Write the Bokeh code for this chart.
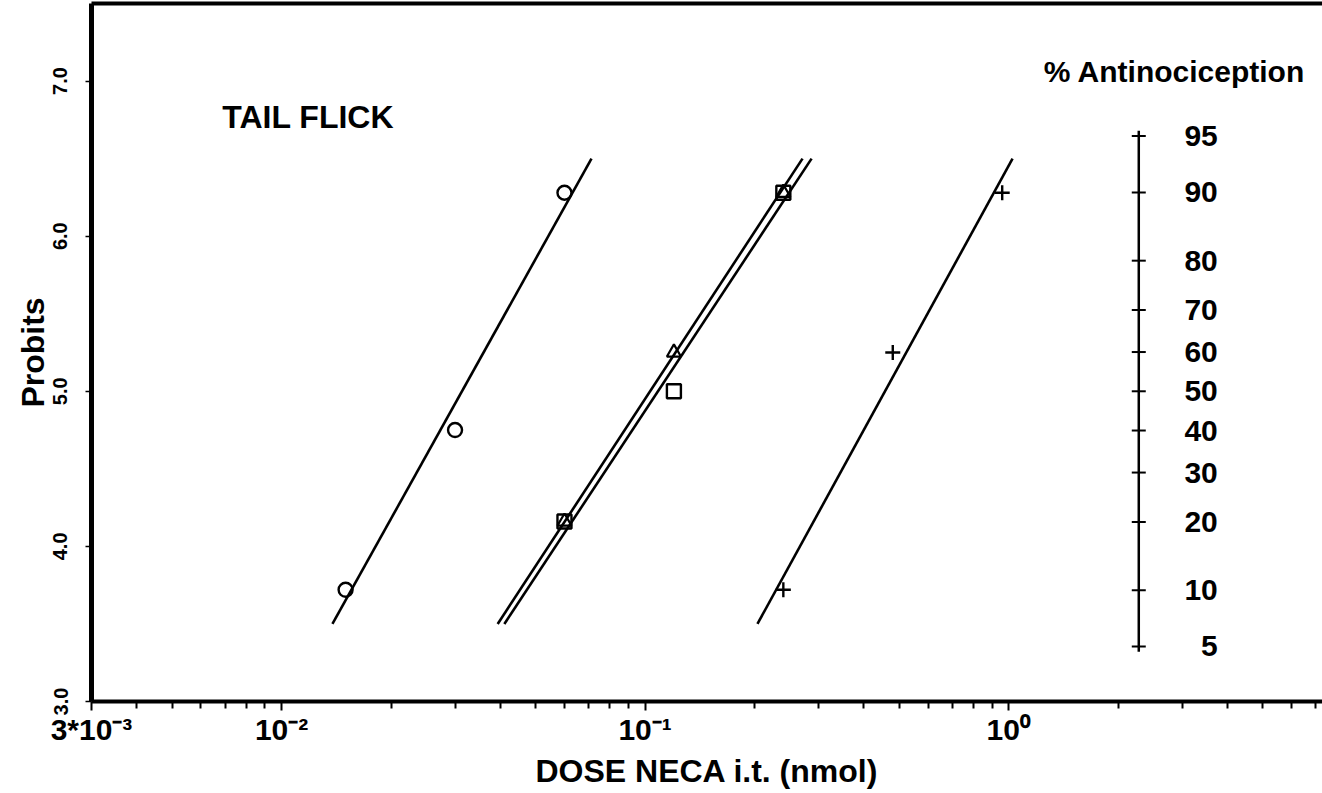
from bokeh.plotting import figure
from bokeh.models import FixedTicker, LinearAxis, Range1d, PrintfTickFormatter
from bokeh.core.properties import value
from bokeh.embed import file_html
from bokeh.resources import INLINE

# ---- data ----
circle_dose = [0.015, 0.03, 0.06]
circle_probit = [3.72, 4.75, 6.28]
square_dose = [0.06, 0.12, 0.24]
square_probit = [4.16, 5.00, 6.28]
triangle_dose = [0.06, 0.12, 0.24]
triangle_probit = [4.16, 5.25, 6.28]
plus_dose = [0.24, 0.48, 0.96]
plus_probit = [3.72, 5.25, 6.28]

fit_probit = [3.5, 6.5]
circle_fit_dose = [0.0138, 0.0712]
triangle_fit_dose = [0.0393, 0.271]
square_fit_dose = [0.0410, 0.287]
plus_fit_dose = [0.2037, 1.025]

x_major = [0.003, 0.01, 0.1, 1.0]
x_major_labels = ["3*10\u207b\u00b3", "10\u207b\u00b2", "10\u207b\u00b9", "10\u2070"]
x_minor = [0.004, 0.005, 0.006, 0.007, 0.008, 0.009,
           0.02, 0.03, 0.04, 0.05, 0.06, 0.07, 0.08, 0.09,
           0.2, 0.3, 0.4, 0.5, 0.6, 0.7, 0.8, 0.9,
           2.0, 3.0, 4.0, 5.0, 6.0, 7.0]
y_ticks = [3.0, 4.0, 5.0, 6.0, 7.0]

pct_labels = ["95", "90", "80", "70", "60", "50", "40", "30", "20", "10", "5"]
pct_probits = [6.645, 6.282, 5.842, 5.524, 5.253, 5.0, 4.747, 4.476, 4.158, 3.718, 3.355]

FONT = value("Liberation Sans")
SEC_X = 2.28

p = figure(width=1322, height=793, x_axis_type="log",
           x_range=Range1d(0.003, 7.3), y_range=Range1d(3.0, 7.5),
           output_backend="svg", toolbar_location=None,
           min_border_left=91, min_border_right=0, min_border_top=3, min_border_bottom=92)
p.outline_line_color = None
p.xgrid.visible = False
p.ygrid.visible = False
p.background_fill_color = "white"
p.border_fill_color = "white"

# x axis
xa = p.xaxis[0]
xa.ticker = FixedTicker(ticks=x_major, minor_ticks=x_minor)
xa.major_label_overrides = dict(zip(x_major, x_major_labels))
xa.axis_label = "DOSE NECA i.t. (nmol)"
xa.axis_line_width = 4
xa.axis_line_color = "black"
xa.major_tick_in = 0
xa.major_tick_out = 9
xa.minor_tick_in = 0
xa.minor_tick_out = 7
xa.major_tick_line_width = 2
xa.minor_tick_line_width = 2
xa.major_label_text_font = "Liberation Sans"
xa.major_label_text_font_style = "bold"
xa.major_label_text_font_size = "30px"
xa.major_label_text_color = "black"
xa.major_label_standoff = 2
xa.axis_label_text_font = "Liberation Sans"
xa.axis_label_text_font_style = "bold"
xa.axis_label_text_font_size = "32px"
xa.axis_label_text_color = "black"
xa.axis_label_standoff = 4

# y axis
ya = p.yaxis[0]
ya.ticker = FixedTicker(ticks=y_ticks)
ya.formatter = PrintfTickFormatter(format="%.1f")
ya.axis_label = "Probits"
ya.axis_line_width = 5
ya.axis_line_color = "black"
ya.major_tick_in = 0
ya.major_tick_out = 6
ya.major_tick_line_width = 1.5
ya.minor_tick_line_color = None
ya.major_label_orientation = "vertical"
ya.major_label_text_font = "Liberation Sans"
ya.major_label_text_font_style = "bold"
ya.major_label_text_font_size = "20px"
ya.major_label_text_color = "black"
ya.major_label_standoff = 18
ya.axis_label_text_font = "Liberation Sans"
ya.axis_label_text_font_style = "bold"
ya.axis_label_text_font_size = "32px"
ya.axis_label_text_color = "black"
ya.axis_label_standoff = 0

# top border
top = LinearAxis(ticker=FixedTicker(ticks=[]), axis_line_width=4, axis_line_color="black",
                 major_tick_line_color=None, minor_tick_line_color=None)
p.add_layout(top, "above")

# fitted lines
for fx in (circle_fit_dose, triangle_fit_dose, square_fit_dose, plus_fit_dose):
    p.line(fx, fit_probit, line_color="black", line_width=2.6)

# points
p.scatter(circle_dose, circle_probit, marker="circle", size=14, fill_color=None,
          line_color="black", line_width=2.4)
p.scatter(square_dose, square_probit, marker="square", size=14, fill_color=None,
          line_color="black", line_width=2.4)
p.scatter(triangle_dose, triangle_probit, marker="triangle", size=14, fill_color=None,
          line_color="black", line_width=2.2)
p.scatter(plus_dose, plus_probit, marker="cross", size=15, line_color="black", line_width=2.4)

# secondary % axis
p.segment(x0=[SEC_X], y0=[max(pct_probits) + 0.035], x1=[SEC_X], y1=[min(pct_probits) - 0.035],
          line_color="black", line_width=2.5)
p.scatter([SEC_X] * len(pct_probits), pct_probits, marker="dash", size=14,
          line_color="black", line_width=2)
p.text([SEC_X] * len(pct_probits), pct_probits, text=pct_labels, x_offset=79,
       text_align="right", text_baseline="middle", text_font=FONT,
       text_font_style="bold", text_font_size="30px", text_color="black")
p.text([6.55], [7.06], text=["% Antinociception"], text_align="right",
       text_baseline="alphabetic", text_font=FONT, text_font_style="bold",
       text_font_size="30px", text_color="black")
p.text([0.00687], [6.77], text=["TAIL FLICK"], text_align="left",
       text_baseline="alphabetic", text_font=FONT, text_font_style="bold",
       text_font_size="32px", text_color="black")

open("out.html", "w").write(file_html(p, INLINE))
